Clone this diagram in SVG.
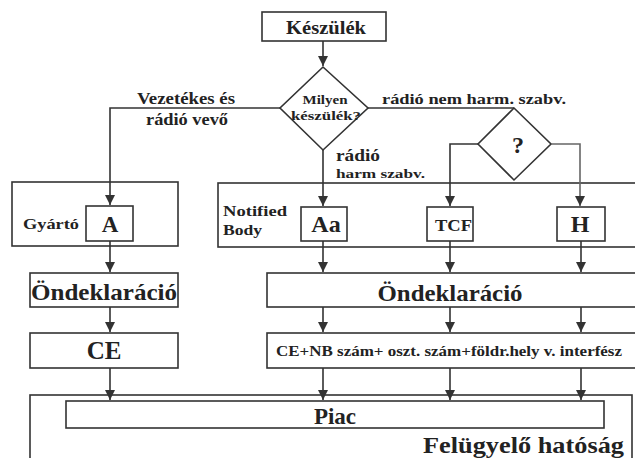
<svg xmlns="http://www.w3.org/2000/svg" width="635" height="458" viewBox="0 0 635 458">
<defs>
<marker id="ah" viewBox="0 0 10 10" refX="10" refY="5" markerWidth="10" markerHeight="10" markerUnits="userSpaceOnUse" orient="auto">
<path d="M0,0 L10,5 L0,10 z" fill="#333"/>
</marker>
<style>
.box{fill:#fff;stroke:#333;stroke-width:1.6}
.ln{fill:none;stroke:#333;stroke-width:1.6}
.ar{fill:none;stroke:#333;stroke-width:1.6;marker-end:url(#ah)}
.t{font-family:"Liberation Serif","Times New Roman",serif;font-weight:bold;fill:#222}
.m{text-anchor:middle}
</style>
</defs>
<rect width="635" height="458" fill="#fff"/>

<g id="felugyelo">
<rect class="box" x="30" y="395" width="602" height="70"/>
<text class="t" x="423" y="453" font-size="23" textLength="201" lengthAdjust="spacingAndGlyphs">Felügyelő hatóság</text>
</g>
<g id="piac">
<rect class="box" x="66" y="401" width="538" height="27"/>
<text class="t m" x="335" y="424" font-size="23">Piac</text>
</g>

<g id="gyarto">
<rect class="box" x="12" y="182" width="166" height="64"/>
<text class="t" x="23" y="229" font-size="15" textLength="56" lengthAdjust="spacingAndGlyphs">Gyártó</text>
</g>
<g id="notified">
<rect class="box" x="218" y="183" width="430" height="64"/>
<text class="t" x="223" y="216" font-size="15" textLength="64" lengthAdjust="spacingAndGlyphs">Notified</text>
<text class="t" x="223" y="235" font-size="15" textLength="39" lengthAdjust="spacingAndGlyphs">Body</text>
</g>

<g id="keszulek">
<rect class="box" x="262" y="12" width="124" height="29"/>
<text class="t m" x="326" y="34" font-size="19" textLength="80" lengthAdjust="spacingAndGlyphs">Készülék</text>
</g>
<g id="milyen">
<path class="box" d="M323,67 L368,108 L323,150 L280,108 Z"/>
<text class="t m" x="325" y="104" font-size="12" textLength="45" lengthAdjust="spacingAndGlyphs">Milyen</text>
<text class="t m" x="326" y="120" font-size="12" textLength="70" lengthAdjust="spacingAndGlyphs">készülék?</text>
</g>
<g id="kerdes">
<path class="box" d="M514,108 L551,144 L514,180 L478,144 Z"/>
<text class="t m" x="518" y="153" font-size="24">?</text>
</g>

<g id="A">
<rect class="box" x="86" y="206" width="47" height="35"/>
<text class="t m" x="110" y="232" font-size="23">A</text>
</g>
<g id="Aa">
<rect class="box" x="301" y="207" width="46" height="34"/>
<text class="t m" x="326" y="232" font-size="24">Aa</text>
</g>
<g id="TCF">
<rect class="box" x="427" y="207" width="46" height="34"/>
<text class="t" x="435" y="231" font-size="17" textLength="37" lengthAdjust="spacingAndGlyphs">TCF</text>
</g>
<g id="H">
<rect class="box" x="557" y="207" width="48" height="34"/>
<text class="t m" x="580" y="232" font-size="24">H</text>
</g>

<g id="ondek1">
<rect class="box" x="30" y="273" width="148" height="34"/>
<text class="t m" x="104" y="300" font-size="24" textLength="146" lengthAdjust="spacingAndGlyphs">Öndeklaráció</text>
</g>
<g id="ondek2">
<rect class="box" x="267" y="273" width="380" height="34"/>
<text class="t m" x="450" y="301" font-size="24" textLength="145" lengthAdjust="spacingAndGlyphs">Öndeklaráció</text>
</g>
<g id="CE">
<rect class="box" x="30" y="333" width="148" height="35"/>
<text class="t m" x="104" y="359" font-size="25">CE</text>
</g>
<g id="CENB">
<rect class="box" x="267" y="333" width="380" height="35"/>
<text class="t m" x="449" y="356" font-size="14" textLength="346" lengthAdjust="spacingAndGlyphs">CE+NB szám+ oszt. szám+földr.hely v. interfész</text>
</g>

<g id="labels">
<text class="t m" x="186" y="104" font-size="16" textLength="98" lengthAdjust="spacingAndGlyphs">Vezetékes és</text>
<text class="t m" x="187" y="125" font-size="16" textLength="82" lengthAdjust="spacingAndGlyphs">rádió vevő</text>
<text class="t" x="382" y="104" font-size="15" textLength="184" lengthAdjust="spacingAndGlyphs">rádió nem harm. szabv.</text>
<text class="t" x="336" y="161" font-size="16" textLength="44" lengthAdjust="spacingAndGlyphs">rádió</text>
<text class="t" x="336" y="178" font-size="13" textLength="89" lengthAdjust="spacingAndGlyphs">harm szabv.</text>
</g>

<g id="connectors">
<path class="ar" d="M323,41 V66"/>
<path class="ar" d="M280,108 H110 V205"/>
<path class="ln" d="M368,108 H514"/>
<path class="ar" d="M323,150 V206"/>
<path class="ar" d="M478,144 H450 V206"/>
<path class="ar" d="M551,144 H580 V206" style="stroke:#666"/>
<path class="ar" d="M110,241 V272"/>
<path class="ar" d="M110,307 V332"/>
<path class="ar" d="M110,368 V400"/>
<path class="ar" d="M323,241 V272"/>
<path class="ar" d="M450,241 V272"/>
<path class="ar" d="M581,241 V272"/>
<path class="ar" d="M323,307 V332"/>
<path class="ar" d="M450,307 V332"/>
<path class="ar" d="M581,307 V332"/>
<path class="ar" d="M323,368 V400"/>
<path class="ar" d="M450,368 V400"/>
<path class="ar" d="M581,368 V400"/>
</g>
</svg>
